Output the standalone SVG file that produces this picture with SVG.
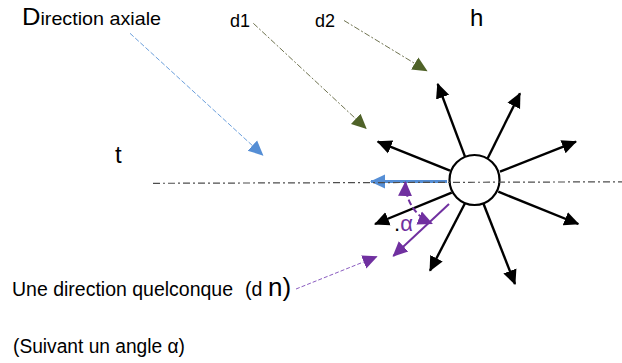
<svg xmlns="http://www.w3.org/2000/svg" width="622" height="363" viewBox="0 0 622 363">
  <style>
    text { font-family: "Liberation Sans", Arial, sans-serif; fill: #000; }
    .ray { stroke: #000; stroke-width: 2.4; fill: none; marker-end: url(#ah-black); }
    .axis { stroke: #4d4d4d; stroke-width: 1.2; stroke-dasharray: 7 3 2 3; fill: none; }
    .lead-blue { stroke: #6b9fdc; stroke-width: 1; stroke-dasharray: 5 2; fill: none; marker-end: url(#ah-blue); }
    .lead-olive { stroke: #6f7350; stroke-width: 1; stroke-dasharray: 6 2 2 2; fill: none; marker-end: url(#ah-olive); }
    .lead-purple { stroke: #8a5cc0; stroke-width: 1; stroke-dasharray: 4 2; fill: none; marker-end: url(#ah-purple); }
    .purple { stroke: #7030a0; fill: none; }
  </style>
  <defs>
    <marker id="ah-black" viewBox="0 0 16 16" markerUnits="userSpaceOnUse" markerWidth="16" markerHeight="16" refX="14" refY="8" orient="auto">
      <path d="M0,1 L15,8 L0,15 z" fill="#000"/>
    </marker>
    <marker id="ah-blue" viewBox="0 0 16 16" markerUnits="userSpaceOnUse" markerWidth="16" markerHeight="16" refX="14" refY="8" orient="auto">
      <path d="M0,1 L15,8 L0,15 z" fill="#558ed5"/>
    </marker>
    <marker id="ah-olive" viewBox="0 0 16 16" markerUnits="userSpaceOnUse" markerWidth="16" markerHeight="16" refX="14" refY="8" orient="auto">
      <path d="M0,1 L15,8 L0,15 z" fill="#4f6228"/>
    </marker>
    <marker id="ah-purple" viewBox="0 0 16 16" markerUnits="userSpaceOnUse" markerWidth="16" markerHeight="16" refX="14" refY="8" orient="auto">
      <path d="M0,1 L15,8 L0,15 z" fill="#7030a0"/>
    </marker>
    <marker id="ah-purple-both" viewBox="0 0 16 16" markerUnits="userSpaceOnUse" markerWidth="16" markerHeight="16" refX="14" refY="8" orient="auto-start-reverse">
      <path d="M0,1 L15,8 L0,15 z" fill="#7030a0"/>
    </marker>
  </defs>

  <!-- labels -->
  <g id="label-axiale">
    <text x="22" y="25" textLength="139" lengthAdjust="spacingAndGlyphs"><tspan font-size="24">D</tspan><tspan font-size="18.5">irection axiale</tspan></text>
  </g>
  <g id="label-d1"><text x="230" y="26.5" font-size="18">d1</text></g>
  <g id="label-d2"><text x="315" y="26.5" font-size="18">d2</text></g>
  <g id="label-h"><text x="470" y="26" font-size="24">h</text></g>
  <g id="label-t"><text x="115" y="162.5" font-size="24">t</text></g>
  <g id="label-dn">
    <text x="12" y="295.5" font-size="19.5" textLength="221" lengthAdjust="spacingAndGlyphs">Une direction quelconque</text>
    <text x="245" y="295.5" font-size="19.5">(d</text>
    <text x="268" y="295.5" font-size="26">n)</text>
  </g>
  <g id="label-angle">
    <text x="13" y="353" font-size="19.5" textLength="172" lengthAdjust="spacingAndGlyphs">(Suivant un angle α)</text>
  </g>
  <g id="label-alpha">
    <text x="394" y="231" font-size="22">.<tspan fill="#7030a0">α</tspan></text>
  </g>

  <!-- central point with radiating directions -->
  <g id="source">
    <circle cx="474.5" cy="180" r="25" fill="#fff" stroke="#000" stroke-width="2.2"/>
  </g>

  <g id="connectors">
    <!-- rays -->
    <path class="ray" d="M465,156.7 L437.7,84"/>
    <path class="ray" d="M487.7,158.3 L520,93.3"/>
    <path class="ray" d="M500,171.7 L576,141.7"/>
    <path class="ray" d="M498.3,191.7 L578.3,224"/>
    <path class="ray" d="M483.3,203.3 L515,284"/>
    <path class="ray" d="M465,203.3 L430,270.7"/>
    <path class="ray" d="M451.7,192.7 L375,224"/>
    <path class="ray" d="M450,170.7 L377.7,141.7"/>

    <!-- axial direction -->
    <path d="M447,181.5 L371,181.5" stroke="#558ed5" stroke-width="3.2" fill="none" marker-end="url(#ah-blue)"/>
    <path class="axis" d="M153,183.3 L622,181.8"/>

    <!-- label leaders -->
    <path class="lead-blue" d="M130,33.3 L262.7,155"/>
    <path class="lead-olive" d="M253.3,23.3 L366,128.3"/>
    <path class="lead-olive" d="M344,20.5 L426.7,70.7"/>
    <path class="lead-purple" d="M296,289 L376.7,256.7"/>

    <!-- arbitrary direction and its angle -->
    <path class="purple" d="M449,204 L393.3,256" stroke-width="2" marker-end="url(#ah-purple)"/>
    <path class="purple" d="M405.5,182 A43.5 43.5 0 0 0 432,223.5" stroke-width="2" stroke-dasharray="6 3" marker-start="url(#ah-purple-both)" marker-end="url(#ah-purple-both)"/>
  </g>
</svg>
